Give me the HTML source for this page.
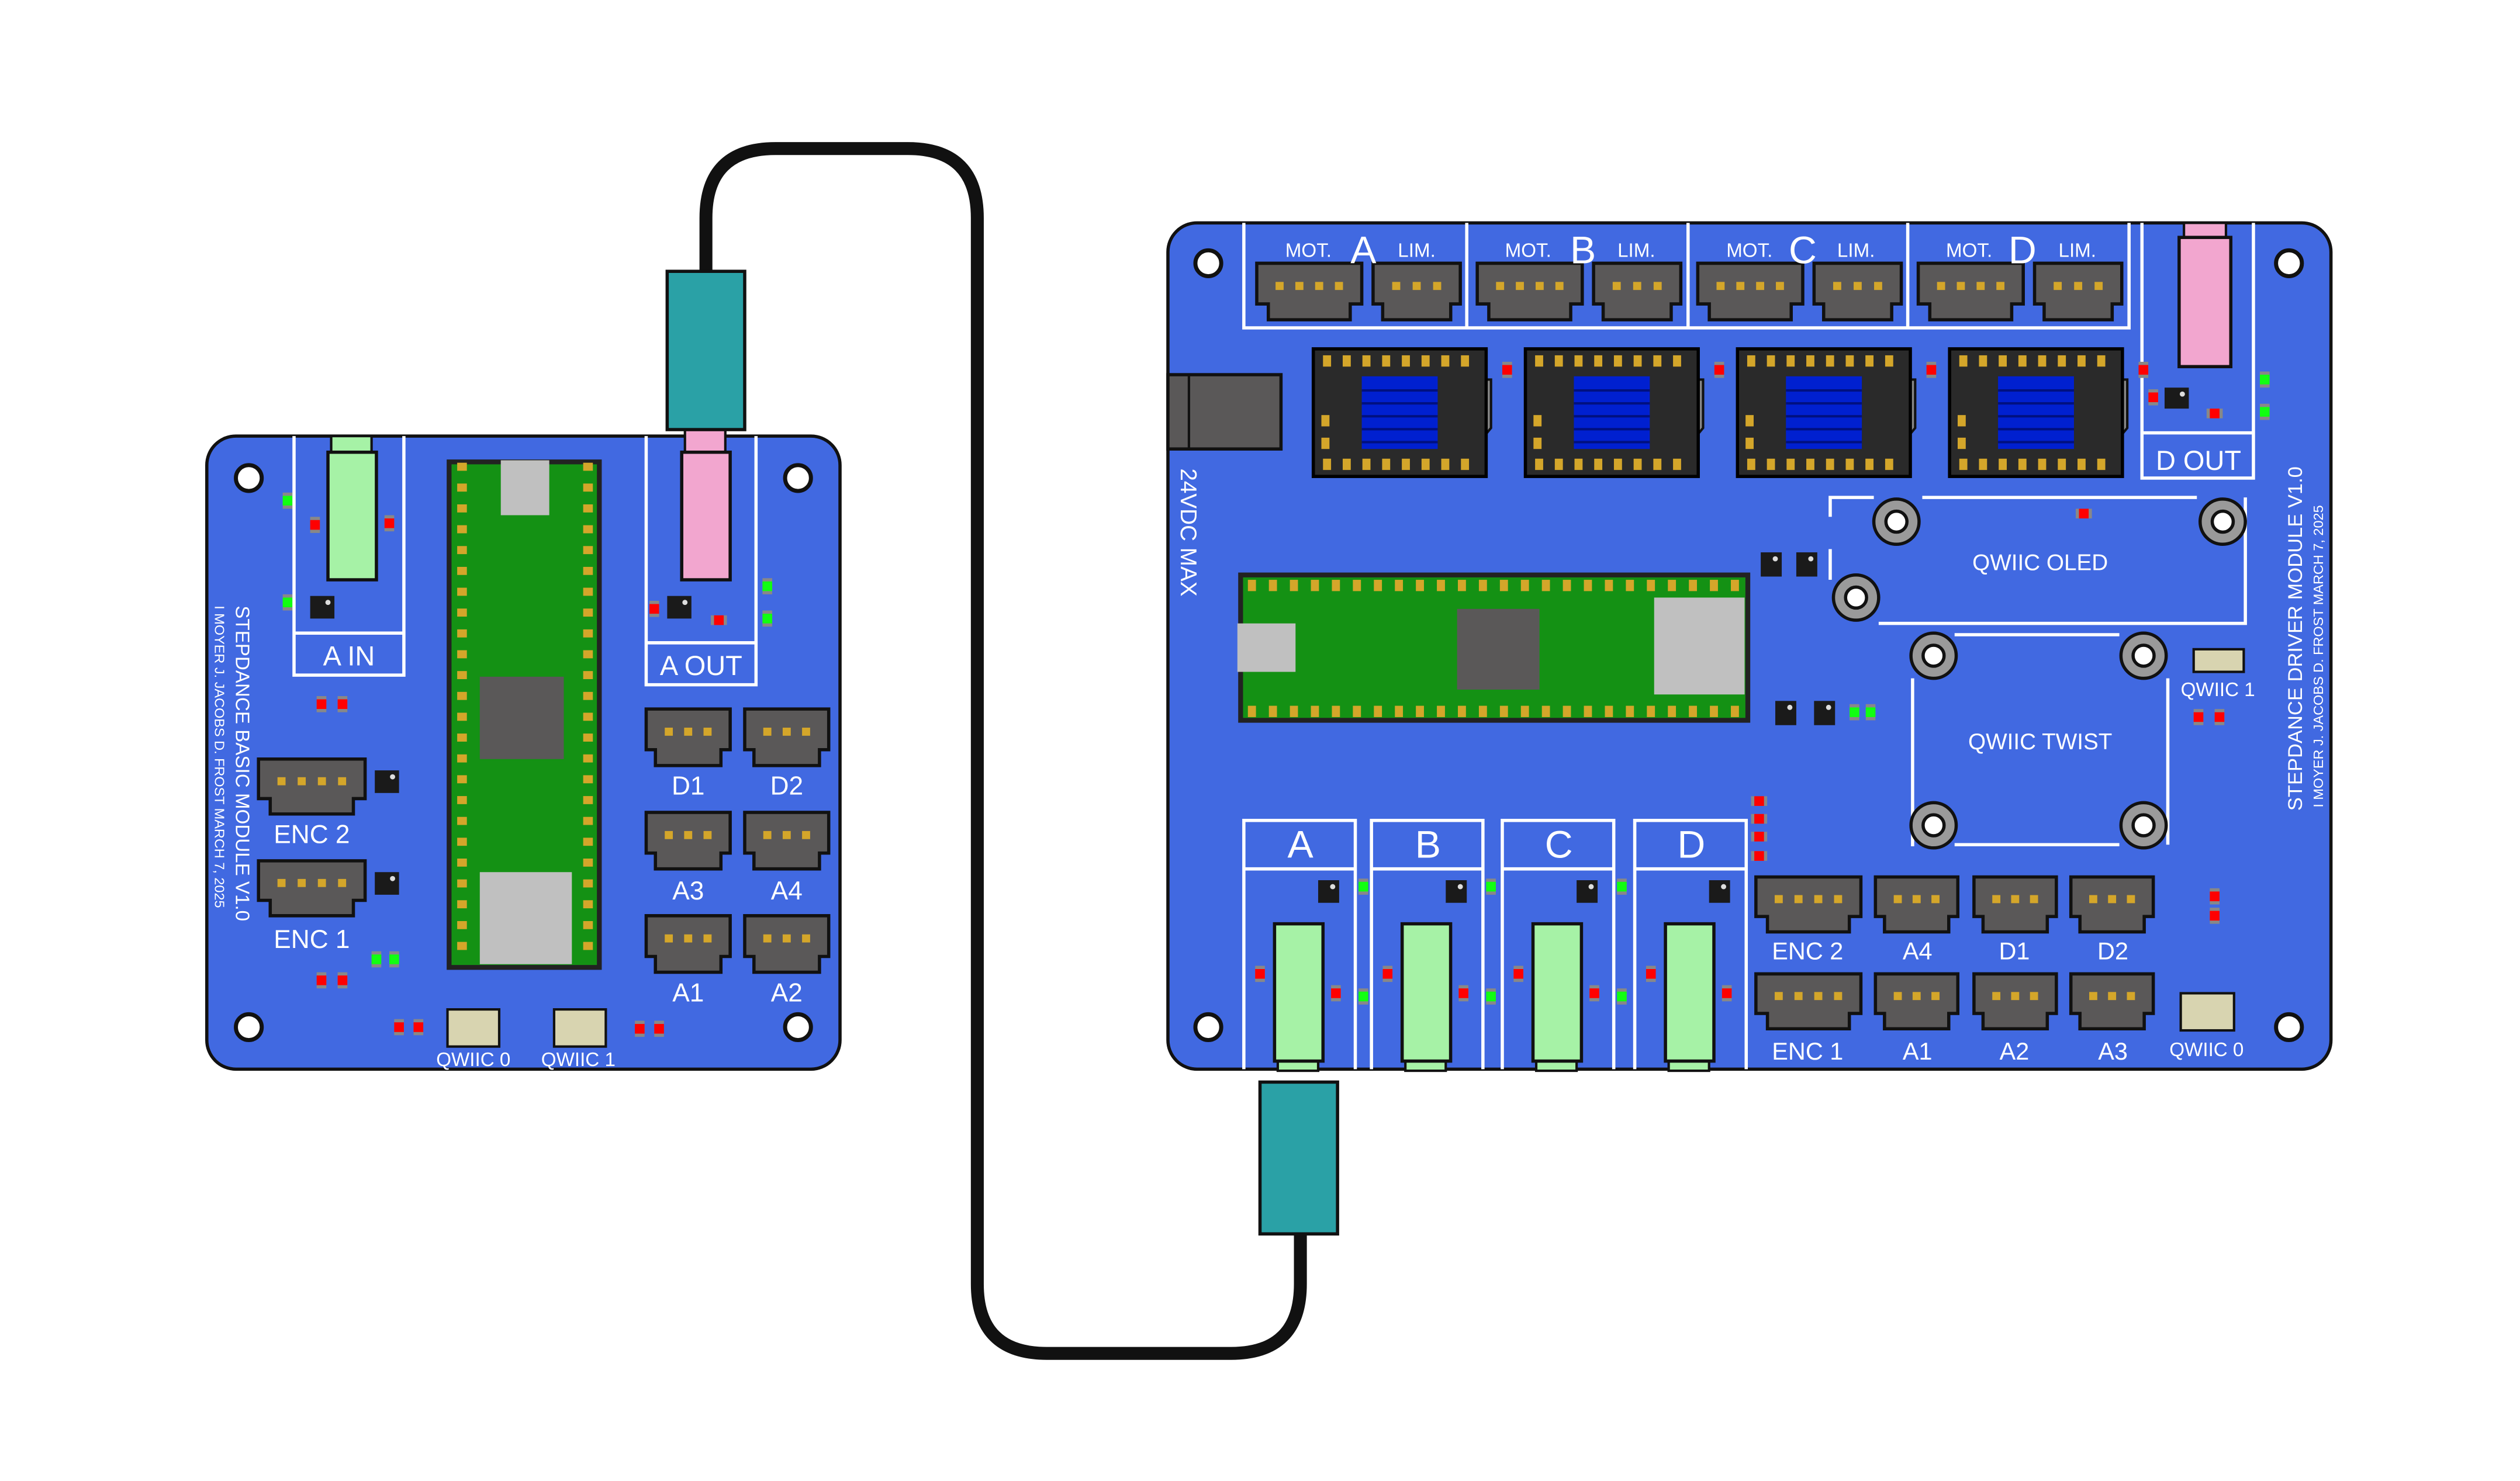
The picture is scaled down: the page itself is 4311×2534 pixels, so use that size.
<!DOCTYPE html>
<html><head><meta charset="utf-8"><style>
html,body{margin:0;padding:0;background:#fff;width:4311px;height:2534px;overflow:hidden}
svg{display:block}
text{font-family:"Liberation Sans",sans-serif;fill:#fff}
</style></head><body>
<svg id="s" width="4311" height="2534" viewBox="0 0 1560 917" xmlns="http://www.w3.org/2000/svg">
<!-- cable -->
<path d="M437,168 V135 Q437,92 480,92 H562 Q605,92 605,135 V795 Q605,838 648,838 H762 Q805,838 805,795 V763" fill="none" stroke="#111" stroke-width="8"/>

<!-- LEFT BOARD -->
<rect x="128" y="270" width="392" height="392" rx="18" fill="#4169e1" stroke="#111" stroke-width="2"/>
<g id="L"></g>
<g stroke="#fff" stroke-width="2" fill="none">
<path d="M182,270 V418 H250 V270 M182,392 H250"/>
<path d="M400,270 V424 H468 V270 M400,398 H468"/>
</g>
<rect x="205" y="270" width="25" height="10" fill="#a6f2a6" stroke="#111" stroke-width="1.5"/>
<rect x="203" y="280" width="30" height="79" fill="#a6f2a6" stroke="#111" stroke-width="2"/>
<rect x="424" y="266" width="25" height="14" fill="#f2a6cf" stroke="#111" stroke-width="1.5"/>
<rect x="422" y="280" width="30" height="79" fill="#f2a6cf" stroke="#111" stroke-width="2"/>
<rect x="413" y="168" width="48" height="98" fill="#2aa1a6" stroke="#111" stroke-width="2"/>
<rect x="278" y="286" width="93" height="313" fill="#149114" stroke="#222" stroke-width="3"/>
<g id="LP"></g>
<rect x="310" y="285" width="30" height="34" fill="#c0c0c0"/>
<rect x="297" y="419" width="52" height="51" fill="#5a5858"/>
<rect x="297" y="540" width="57" height="57" fill="#c0c0c0"/>
<text x="216" y="412" font-size="17" text-anchor="middle">A IN</text>
<text x="434" y="418" font-size="17" text-anchor="middle">A OUT</text>
<text x="193" y="522" font-size="16" text-anchor="middle">ENC 2</text>
<text x="193" y="587" font-size="16" text-anchor="middle">ENC 1</text>
<text x="426" y="492" font-size="16" text-anchor="middle">D1</text>
<text x="487" y="492" font-size="16" text-anchor="middle">D2</text>
<text x="426" y="557" font-size="16" text-anchor="middle">A3</text>
<text x="487" y="557" font-size="16" text-anchor="middle">A4</text>
<text x="426" y="620" font-size="16" text-anchor="middle">A1</text>
<text x="487" y="620" font-size="16" text-anchor="middle">A2</text>
<rect x="277" y="625" width="32" height="23" fill="#d8d4b0" stroke="#111" stroke-width="1.5"/>
<rect x="343" y="625" width="32" height="23" fill="#d8d4b0" stroke="#111" stroke-width="1.5"/>
<text x="293" y="660" font-size="12" text-anchor="middle">QWIIC 0</text>
<text x="358" y="660" font-size="12" text-anchor="middle">QWIIC 1</text>
<text transform="translate(146,375) rotate(90)" font-size="12">STEPDANCE BASIC MODULE V1.0</text>
<text transform="translate(133,375) rotate(90)" font-size="8.5">I MOYER J. JACOBS D. FROST MARCH 7, 2025</text>

<!-- RIGHT BOARD -->
<rect x="723" y="138" width="720" height="524" rx="18" fill="#4169e1" stroke="#111" stroke-width="2"/>
<rect x="723" y="232" width="70" height="46" fill="#5a5858" stroke="#111" stroke-width="2"/>
<line x1="736" y1="232" x2="736" y2="278" stroke="#111" stroke-width="1.5"/>
<text transform="translate(731,290) rotate(90)" font-size="14">24VDC MAX</text>
<g stroke="#fff" stroke-width="2" fill="none">
<path d="M770,138 V203 H1318 V138 M908,138 V203 M1045,138 V203 M1181,138 V203"/>
<path d="M1326,138 V296 H1395 V138 M1326,268 H1395"/>
<path d="M1133,320 V308 H1160 M1190,308 H1360 M1390,308 V386 H1163 M1133,359 V340"/>
<path d="M1184,420 V523 H1183 M1210,393 H1312 M1342,420 V523 M1210,523 H1312"/>
<path d="M770,662 V508 H839 V662 M770,538 H839"/>
<path d="M849,662 V508 H918 V662 M849,538 H918"/>
<path d="M930,662 V508 H999 V662 M930,538 H999"/>
<path d="M1012,662 V508 H1081 V662 M1012,538 H1081"/>
</g>
<g id="R"></g>
<rect x="1352" y="138" width="26" height="10" fill="#f2a6cf" stroke="#111" stroke-width="1.5"/>
<rect x="1349" y="147" width="32" height="80" fill="#f2a6cf" stroke="#111" stroke-width="2"/>
<rect x="768" y="356" width="314" height="90" fill="#149114" stroke="#222" stroke-width="3"/>
<g id="RP"></g>
<rect x="766" y="386" width="36" height="30" fill="#c0c0c0"/>
<rect x="902" y="377" width="51" height="50" fill="#5a5858"/>
<rect x="1024" y="370" width="56" height="60" fill="#c0c0c0"/>
<text x="1263" y="353" font-size="14" text-anchor="middle">QWIIC OLED</text>
<text x="1263" y="464" font-size="14" text-anchor="middle">QWIIC TWIST</text>
<rect x="1358" y="402" width="31" height="14" fill="#d8d4b0" stroke="#111" stroke-width="1.5"/>
<text x="1373" y="431" font-size="12" text-anchor="middle">QWIIC 1</text>
<rect x="1350" y="615" width="33" height="23" fill="#d8d4b0" stroke="#111" stroke-width="1.5"/>
<text x="1366" y="654" font-size="12" text-anchor="middle">QWIIC 0</text>
<g font-size="12" text-anchor="middle">
<text x="810" y="159">MOT.</text><text x="877" y="159">LIM.</text>
<text x="946" y="159">MOT.</text><text x="1013" y="159">LIM.</text>
<text x="1083" y="159">MOT.</text><text x="1149" y="159">LIM.</text>
<text x="1219" y="159">MOT.</text><text x="1286" y="159">LIM.</text>
</g>
<g font-size="24" text-anchor="middle">
<text x="844" y="163">A</text><text x="980" y="163">B</text><text x="1116" y="163">C</text><text x="1252" y="163">D</text>
<text x="805" y="531">A</text><text x="884" y="531">B</text><text x="965" y="531">C</text><text x="1047" y="531">D</text>
</g>
<text x="1361" y="291" font-size="17" text-anchor="middle">D OUT</text>
<g font-size="15" text-anchor="middle">
<text x="1119" y="594">ENC 2</text><text x="1187" y="594">A4</text><text x="1247" y="594">D1</text><text x="1308" y="594">D2</text>
<text x="1119" y="656">ENC 1</text><text x="1187" y="656">A1</text><text x="1247" y="656">A2</text><text x="1308" y="656">A3</text>
</g>
<text transform="translate(1425,502) rotate(-90)" font-size="12.5">STEPDANCE DRIVER MODULE V1.0</text>
<text transform="translate(1438,500) rotate(-90)" font-size="8.5">I MOYER J. JACOBS D. FROST MARCH 7, 2025</text>
<rect x="780" y="670" width="48" height="94" fill="#2aa1a6" stroke="#111" stroke-width="2"/>
</svg>
<script>
var NS="http://www.w3.org/2000/svg";
function el(g,t,a){var e=document.createElementNS(NS,t);for(var k in a)e.setAttribute(k,a[k]);document.getElementById(g).appendChild(e);return e;}
function r(g,x,y,w,h,f,s,sw){return el(g,"rect",{x:x,y:y,width:w,height:h,fill:f,stroke:s||"none","stroke-width":sw||0});}
function hole(g,x,y){el(g,"circle",{cx:x,cy:y,r:8,fill:"#fff",stroke:"#111","stroke-width":2.5});}
function conn(g,x,y,w,h,n){var t=w*0.22;
 el(g,"path",{d:"M"+x+","+y+"h"+w+"v"+(h*0.72)+"h"+(-t*0.5)+"v"+(h*0.28)+"h"+(-(w-t))+"v"+(-h*0.28)+"h"+(-t*0.5)+"z",fill:"#5a5858",stroke:"#111","stroke-width":2});
 var pw=5,gap=(w-16)/n;for(var i=0;i<n;i++)r(g,x+8+gap*i+(gap-pw)/2,y+h*0.33,pw,5,"#d4a62a");}
function led(g,x,y,c,hz){if(hz){r(g,x-5,y-3,10,6,"#888");r(g,x-3,y-3,6,6,c);}else{r(g,x-3,y-5,6,10,"#888");r(g,x-3,y-3,6,6,c);}}
function chip(g,x,y,w,h){r(g,x,y,w,h,"#1a1a1a");el(g,"circle",{cx:x+w-4,cy:y+4,r:1.6,fill:"#ddd"});}
function stand(g,x,y){el(g,"circle",{cx:x,cy:y,r:14,fill:"#9a9a9a",stroke:"#111","stroke-width":2});el(g,"circle",{cx:x,cy:y,r:6.5,fill:"#fff",stroke:"#111","stroke-width":2});}
var R="#f00",G="#1f1";
// left
hole("L",154,296);hole("L",494,296);hole("L",154,636);hole("L",494,636);
conn("L",160,470,66,34,4);conn("L",160,533,66,34,4);
[[400,439],[461,439],[400,503],[461,503],[400,567],[461,567]].forEach(function(p){conn("L",p[0],p[1],52,35,3);});
chip("L",192,369,15,14);chip("L",413,369,15,14);chip("L",232,477,15,14);chip("L",232,540,15,14);
led("L",178,310,G);led("L",195,325,R);led("L",241,324,R);led("L",178,373,G);
led("L",405,377,R);led("L",445,384,R,1);led("L",475,363,G);led("L",475,383,G);
led("L",199,436,R);led("L",212,436,R);led("L",199,607,R);led("L",212,607,R);
led("L",233,594,G);led("L",244,594,G);led("L",247,636,R);led("L",259,636,R);led("L",396,637,R);led("L",408,637,R);
for(var i=0;i<24;i++){var y=289+i*12.9;r("LP",283,y-2.5,6,5,"#d4a62a");r("LP",361,y-2.5,6,5,"#d4a62a");}
// right
hole("R",748,163);hole("R",1417,163);hole("R",748,636);hole("R",1417,636);
for(var k=0;k<4;k++){var ox=k*136.5;conn("R",778+ox,163,65,35,4);conn("R",850+ox,163,54,35,3);
 var dx=813+k*131.3;
 el("R","path",{d:"M"+(dx+100)+",235 h10 v30 l-10,12z",fill:"#888",stroke:"#111","stroke-width":1.5});
 r("R",dx,216,107,79,"#2a2a2a","#000",2);
 for(var j=0;j<8;j++){r("R",dx+6+j*12.2,220,5,7,"#d4a62a");r("R",dx+6+j*12.2,284,5,7,"#d4a62a");}
 r("R",dx+5,257,5,7,"#d4a62a");r("R",dx+5,271,5,7,"#d4a62a");
 r("R",dx+30,233,47,45,"#0020d0");
 for(var j=1;j<6;j++)r("R",dx+30,233+j*8,47,1.5,"#001080");
 led("R",dx+120,229,R);
}
for(var i=0;i<24;i++){var x=775+i*13;r("RP",x-2.5,359,5,7,"#d4a62a");r("RP",x-2.5,437,5,7,"#d4a62a");}
chip("R",1090,342,13,15);chip("R",1112,342,13,15);chip("R",1099,434,13,15);chip("R",1123,434,13,15);
led("R",1148,441,G);led("R",1158,441,G);
chip("R",1340,240,15,13);led("R",1333,246,R);led("R",1371,256,R,1);led("R",1402,235,G);led("R",1402,255,G);
led("R",1290,318,R,1);led("R",1361,444,R);led("R",1374,444,R);led("R",1371,555,R);led("R",1371,567,R);
led("R",1089,496,R,1);led("R",1089,507,R,1);led("R",1089,518,R,1);led("R",1089,530,R,1);
stand("R",1174,323);stand("R",1376,323);stand("R",1149,370);
stand("R",1197,406);stand("R",1327,406);stand("R",1197,511);stand("R",1327,511);
[[1087,"4"],[1161,"3"],[1222,"3"],[1282,"3"]].forEach(function(p,i){var w=i==0?65:51;conn("R",p[0],543,w,34,+p[1]);conn("R",p[0],603,w,34,+p[1]);});
[770,849,930,1012].forEach(function(bx,i){
 r("R",bx+21,655,25,8,"#a6f2a6","#111",1.5);
 r("R",bx+19,572,30,85,"#a6f2a6","#111",2);
 chip("R",bx+46,545,13,14);
 led("R",bx+10,603,R);led("R",bx+57,615,R);
 if(i<3){led("R",bx+74,549,G);led("R",bx+74,617,G);}
});
</script>
</body></html>
